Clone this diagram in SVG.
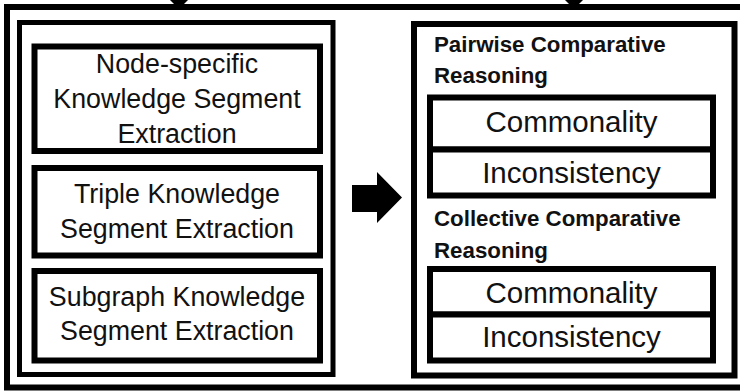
<svg xmlns="http://www.w3.org/2000/svg" width="740" height="391" viewBox="0 0 740 391">
  <style>
    .frame { fill: none; stroke: #000; stroke-linejoin: miter; }
    .box { fill: #fff; stroke: #000; stroke-width: 6; stroke-linejoin: miter; }
    .lbl { font-family: "Liberation Sans", Arial, sans-serif; font-size: 26.8px; fill: #111; text-anchor: middle; }
    .cell { font-family: "Liberation Sans", Arial, sans-serif; font-size: 29.5px; fill: #111; text-anchor: middle; }
    .head { font-family: "Liberation Sans", Arial, sans-serif; font-size: 22.3px; font-weight: bold; fill: #111; }
  </style>
  <rect width="740" height="391" fill="#fff"/>

  <!-- outer container -->
  <rect id="outer" class="frame" x="7" y="7" width="745" height="380.5" stroke-width="6"/>

  <g id="connectors">
    <!-- incoming arrowheads at the top edge -->
    <polygon points="170,0 188,0 179,9" fill="#000"/>
    <polygon points="565,0 583,0 574,9" fill="#000"/>
    <!-- block arrow between the two stages -->
    <polygon points="352,185 377,185 377,172 402,197.5 377,223 377,212 352,212" fill="#000"/>
  </g>

  <!-- extraction stage -->
  <g id="extraction">
    <rect class="frame" x="19.5" y="22.5" width="313.5" height="352" stroke-width="5"/>
  </g>
  <g id="node-specific">
    <rect class="box" x="34.5" y="46.5" width="285.5" height="104.5"/>
    <text class="lbl" x="177" y="73">Node-specific</text>
    <text class="lbl" x="177" y="108">Knowledge Segment</text>
    <text class="lbl" x="177" y="143">Extraction</text>
  </g>
  <g id="triple">
    <rect class="box" x="34.5" y="168" width="285.5" height="87.5"/>
    <text class="lbl" x="177" y="203">Triple Knowledge</text>
    <text class="lbl" x="177" y="238">Segment Extraction</text>
  </g>
  <g id="subgraph">
    <rect class="box" x="34.5" y="271" width="285.5" height="89.5"/>
    <text class="lbl" x="177" y="306">Subgraph Knowledge</text>
    <text class="lbl" x="177" y="340">Segment Extraction</text>
  </g>

  <!-- reasoning stage -->
  <g id="reasoning">
    <rect class="frame" x="414" y="24" width="320.5" height="351.5" stroke-width="6"/>
    <text class="head" x="434" y="52">Pairwise Comparative</text>
    <text class="head" x="434" y="83">Reasoning</text>
    <text class="head" x="434" y="226">Collective Comparative</text>
    <text class="head" x="434" y="258">Reasoning</text>
  </g>
  <g id="pairwise-commonality">
    <rect class="box" x="430" y="97.5" width="283" height="52"/>
    <text class="cell" x="571.5" y="132">Commonality</text>
  </g>
  <g id="pairwise-inconsistency">
    <rect class="box" x="430" y="149.5" width="283" height="46"/>
    <text class="cell" x="571.5" y="183">Inconsistency</text>
  </g>
  <g id="collective-commonality">
    <rect class="box" x="430" y="269" width="283" height="45.5"/>
    <text class="cell" x="571.5" y="303">Commonality</text>
  </g>
  <g id="collective-inconsistency">
    <rect class="box" x="430" y="314.5" width="283" height="46"/>
    <text class="cell" x="571.5" y="347">Inconsistency</text>
  </g>
</svg>
